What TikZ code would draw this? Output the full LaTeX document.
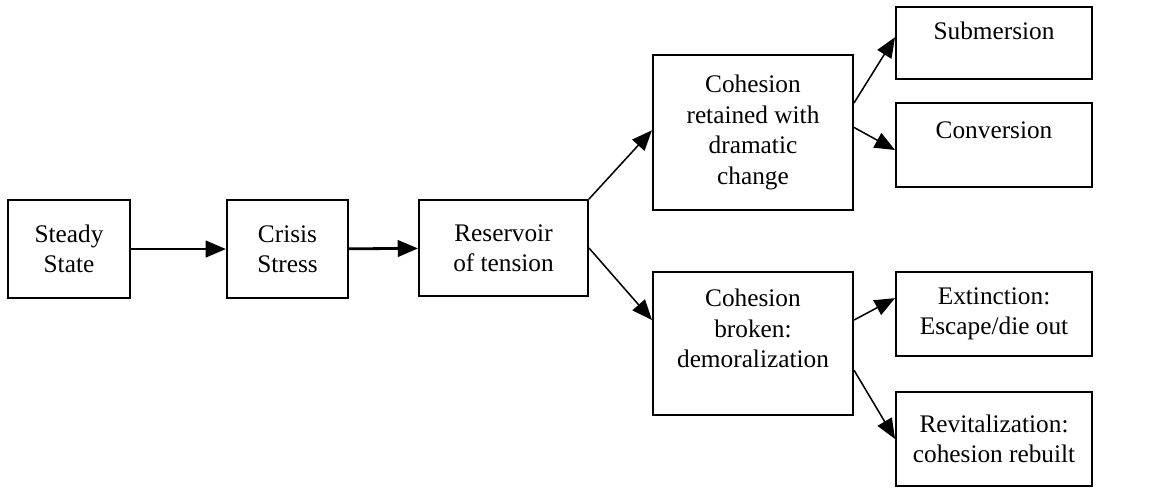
\documentclass[tikz,border=0pt]{standalone}
\usepackage{fontspec}
\setmainfont{Liberation Serif}
\usepackage{tikz}
\usetikzlibrary{calc, arrows.meta}

\tikzset{
	box/.style={draw, line width=0.8pt, inner sep=0pt, align=center, font=\fontsize{10}{12}\selectfont},
	flow/.style={line width=1.1pt, -{Triangle[length=8pt,width=6.5pt]}},
	branch/.style={line width=0.6pt, -{Triangle[length=8pt,width=6.5pt]}}
}

\begin{document}
\begin{tikzpicture}[scale=1]
	\useasboundingbox (0,0) rectangle (16,6.778);
	
	\node[box, minimum width=1.694cm, minimum height=1.361cm] (steady) at (0.958,3.319) {Steady\\State};
	\node[box, minimum width=1.681cm, minimum height=1.361cm] (crisis) at (3.993,3.319) {Crisis\\Stress};
	\node[box, minimum width=2.347cm, minimum height=1.333cm] (reservoir) at (6.993,3.333) {Reservoir\\of tension};
	
	\node[box, minimum width=2.778cm, minimum height=2.153cm] (retained) at (10.458,4.938) {Cohesion\\retained with\\dramatic\\change};
	\node[box, minimum width=2.778cm, minimum height=1.986cm] (broken) at (10.458,2.007) {Cohesion\\broken:\\demoralization\\\mbox{}};
	
	\node[box, minimum width=2.722cm, minimum height=1.0cm] (submersion) at (13.806,6.181) {Submersion\\[-2pt]\mbox{}};
	\node[box, minimum width=2.722cm, minimum height=1.167cm] (conversion) at (13.806,4.764) {Conversion\\\mbox{}};
	\node[box, minimum width=2.722cm, minimum height=1.167cm] (extinction) at (13.806,2.417) {Extinction:\\Escape/die out};
	\node[box, minimum width=2.722cm, minimum height=1.306cm] (revital) at (13.806,0.681) {Revitalization:\\cohesion rebuilt};
	
	\draw[flow] (steady) -- (crisis);
	\draw[flow] (crisis) -- (reservoir);
	
	\draw[branch] (reservoir.north east) -- ([yshift=0.03cm]retained.west);
	\draw[branch] (reservoir.east) -- ([yshift=0.326cm]broken.west);
	
	\draw[branch] ([yshift=0.41cm]retained.east) -- ([yshift=0.08cm]submersion.west);
	\draw[branch] ([yshift=0.07cm]retained.east) -- ([yshift=-0.07cm]conversion.west);
	
	\draw[branch] ([yshift=0.326cm]broken.east) -- ([yshift=0.22cm]extinction.west);
	\draw[branch] ([yshift=-0.37cm]broken.east) -- (revital.west);
\end{tikzpicture}
\end{document}
